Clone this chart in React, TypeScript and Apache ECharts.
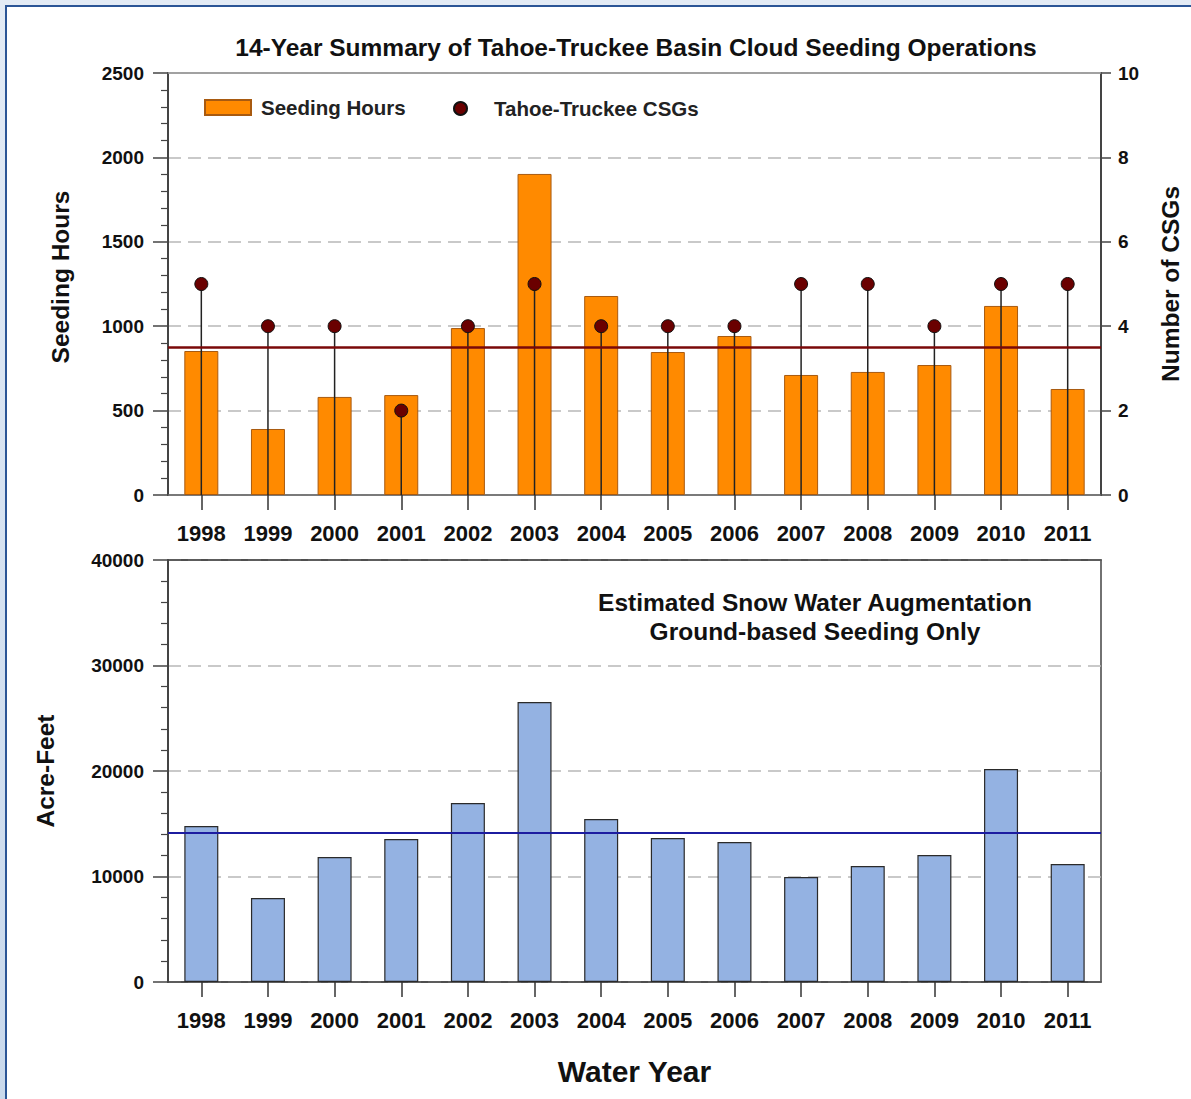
import React, { useEffect, useRef } from "react";
import * as echarts from "echarts";

const years = ["1998", "1999", "2000", "2001", "2002", "2003", "2004", "2005", "2006", "2007", "2008", "2009", "2010", "2011"];
const seedingHours = [853, 391, 581, 592, 989, 1902, 1179, 847, 942, 711, 729, 770, 1120, 628];
const csgCounts = [5, 4, 4, 2, 4, 5, 4, 4, 4, 5, 5, 4, 5, 5];
const acreFeet = [14790, 7960, 11850, 13560, 16970, 26540, 15450, 13650, 13270, 9950, 11000, 12040, 20190, 11190];

const FONT = "'Liberation Sans', Arial, sans-serif";
const TXT = "#111";

export default function App() {
  const ref = useRef<HTMLDivElement>(null);

  useEffect(() => {
    if (!ref.current) return;
    const chart = echarts.init(ref.current, undefined, { renderer: "svg" });

    const plain = (v: number) => String(v);
    const yLabel = { color: TXT, fontFamily: FONT, fontWeight: "bold", fontSize: 19, formatter: plain };
    const xLabel = { color: TXT, fontFamily: FONT, fontWeight: "bold", fontSize: 22, margin: 27 };
    const nameStyle = { color: TXT, fontFamily: FONT, fontWeight: "bold", fontSize: 24.5 };
    const split = { show: true, lineStyle: { color: "#b8b8b8", width: 1.5, type: [13, 7] } };

    chart.setOption({
      animation: false,
      backgroundColor: "transparent",
      textStyle: { fontFamily: FONT },
      grid: [
        { left: 168, top: 73, width: 933, height: 422, show: true, borderColor: "#9a9a9a", borderWidth: 1.5, backgroundColor: "transparent" },
        { left: 168, top: 560, width: 933, height: 422, show: true, borderColor: "#444", borderWidth: 1.5, backgroundColor: "transparent" },
      ],
      legend: [
        {
          data: [{ name: "Seeding Hours", icon: "rect" }],
          left: 204,
          top: 97,
          padding: 0,
          itemWidth: 46,
          itemHeight: 15,
          textStyle: { color: "#222", fontFamily: FONT, fontWeight: "bold", fontSize: 20.5, padding: [0, 0, 0, 5] },
          selectedMode: false,
        },
        {
          data: [{ name: "Tahoe-Truckee CSGs", icon: "circle" }],
          left: 453,
          top: 98,
          padding: 0,
          itemWidth: 13,
          itemHeight: 13,
          textStyle: { color: "#222", fontFamily: FONT, fontWeight: "bold", fontSize: 20.5, padding: [0, 0, 0, 22] },
          selectedMode: false,
        },
      ],
      graphic: [
        {
          type: "text",
          x: 636,
          y: 47,
          style: {
            text: "14-Year Summary of Tahoe-Truckee Basin Cloud Seeding Operations",
            fill: TXT,
            font: `bold 24.5px ${FONT}`,
            textAlign: "center",
            textVerticalAlign: "middle",
          },
        },
        {
          type: "text",
          x: 815,
          y: 602,
          style: {
            text: "Estimated Snow Water Augmentation",
            fill: TXT,
            font: `bold 24.5px ${FONT}`,
            textAlign: "center",
            textVerticalAlign: "middle",
          },
        },
        {
          type: "text",
          x: 815,
          y: 631,
          style: {
            text: "Ground-based Seeding Only",
            fill: TXT,
            font: `bold 24.5px ${FONT}`,
            textAlign: "center",
            textVerticalAlign: "middle",
          },
        },
      ],
      xAxis: [
        {
          type: "category",
          gridIndex: 0,
          data: years,
          axisLine: { show: true, lineStyle: { color: "#666", width: 1.5 } },
          axisTick: { show: true, alignWithLabel: true, length: 15, lineStyle: { color: "#333", width: 1.5 } },
          axisLabel: xLabel,
        },
        {
          type: "category",
          gridIndex: 0,
          data: years,
          show: false,
        },
        {
          type: "category",
          gridIndex: 1,
          data: years,
          axisLine: { show: true, lineStyle: { color: "#444", width: 1.5 } },
          axisTick: { show: true, alignWithLabel: true, length: 15, lineStyle: { color: "#333", width: 1.5 } },
          axisLabel: xLabel,
          name: "Water Year",
          nameLocation: "middle",
          nameGap: 74,
          nameTextStyle: { ...nameStyle, fontSize: 30 },
        },
        {
          type: "category",
          gridIndex: 0,
          position: "top",
          data: years,
          axisLine: { show: true, lineStyle: { color: "#9a9a9a", width: 1.5 } },
          axisTick: { show: false },
          axisLabel: { show: false },
        },
        {
          type: "category",
          gridIndex: 1,
          position: "top",
          data: years,
          axisLine: { show: true, lineStyle: { color: "#444", width: 1.5 } },
          axisTick: { show: false },
          axisLabel: { show: false },
        },
      ],
      yAxis: [
        {
          type: "value",
          gridIndex: 0,
          min: 0,
          max: 2500,
          interval: 500,
          axisLine: { show: true, lineStyle: { color: "#444", width: 2 } },
          axisTick: { show: true, length: 15, lineStyle: { color: "#444", width: 1.5 } },
          minorTick: { show: true, splitNumber: 5, length: 7, lineStyle: { color: "#444", width: 1.2 } },
          axisLabel: { ...yLabel, margin: 24 },
          splitLine: split,
          name: "Seeding Hours",
          nameLocation: "middle",
          nameGap: 95,
          nameTextStyle: { ...nameStyle, padding: [0, 0, 0, 14] },
        },
        {
          type: "value",
          gridIndex: 0,
          position: "right",
          min: 0,
          max: 10,
          interval: 2,
          axisLine: { show: true, lineStyle: { color: "#444", width: 2 } },
          axisTick: { show: true, length: 10, lineStyle: { color: "#444", width: 1.5 } },
          axisLabel: { ...yLabel, margin: 17 },
          splitLine: { show: false },
          name: "Number of CSGs",
          nameLocation: "middle",
          nameGap: 57,
          nameRotate: 90,
          nameTextStyle: nameStyle,
        },
        {
          type: "value",
          gridIndex: 1,
          min: 0,
          max: 40000,
          interval: 10000,
          axisLine: { show: true, lineStyle: { color: "#444", width: 2 } },
          axisTick: { show: true, length: 15, lineStyle: { color: "#444", width: 1.5 } },
          minorTick: { show: true, splitNumber: 5, length: 7, lineStyle: { color: "#444", width: 1.2 } },
          axisLabel: { ...yLabel, margin: 24 },
          splitLine: split,
          name: "Acre-Feet",
          nameLocation: "middle",
          nameGap: 110,
          nameTextStyle: nameStyle,
        },
      ],
      series: [
        {
          name: "Seeding Hours",
          type: "bar",
          xAxisIndex: 0,
          yAxisIndex: 0,
          data: seedingHours,
          barWidth: 34,
          itemStyle: { color: "#ff8a00", borderColor: "#a85a10", borderWidth: 1 },
          markLine: {
            silent: true,
            symbol: "none",
            label: { show: false },
            lineStyle: { color: "#7a0808", width: 2.5, type: "solid" },
            data: [{ type: "average" }],
          },
          z: 2,
        },
        {
          name: "stems",
          type: "bar",
          xAxisIndex: 1,
          yAxisIndex: 1,
          data: csgCounts,
          barWidth: 1.5,
          itemStyle: { color: "#222" },
          z: 4,
        },
        {
          name: "Tahoe-Truckee CSGs",
          type: "scatter",
          xAxisIndex: 0,
          yAxisIndex: 1,
          data: csgCounts,
          symbol: "circle",
          symbolSize: 13,
          itemStyle: { color: "#6a0000", borderColor: "#111", borderWidth: 1, opacity: 1 },
          z: 5,
        },
        {
          name: "Acre-Feet",
          type: "bar",
          xAxisIndex: 2,
          yAxisIndex: 2,
          data: acreFeet,
          barWidth: 34,
          itemStyle: { color: "#94b2e2", borderColor: "#2a2a2a", borderWidth: 1.2 },
          markLine: {
            silent: true,
            symbol: "none",
            label: { show: false },
            lineStyle: { color: "#1c1ca0", width: 2, type: "solid" },
            data: [{ type: "average" }],
          },
        },
      ],
    });

    return () => chart.dispose();
  }, []);

  return (
    <div
      style={{
        position: "absolute",
        left: 0,
        top: 0,
        width: 1191,
        height: 1099,
        overflow: "hidden",
        background: "linear-gradient(180deg, #e3ebf5 0%, #c9d9ec 100%)",
      }}
    >
      <div
        style={{
          position: "absolute",
          left: 5,
          top: 5,
          right: 0,
          bottom: 0,
          background: "#fff",
          borderLeft: "2.5px solid #2b5596",
          borderTop: "2.5px solid #2b5596",
        }}
      />
      <div ref={ref} style={{ position: "absolute", left: 0, top: 0, width: 1191, height: 1099 }} />
    </div>
  );
}
